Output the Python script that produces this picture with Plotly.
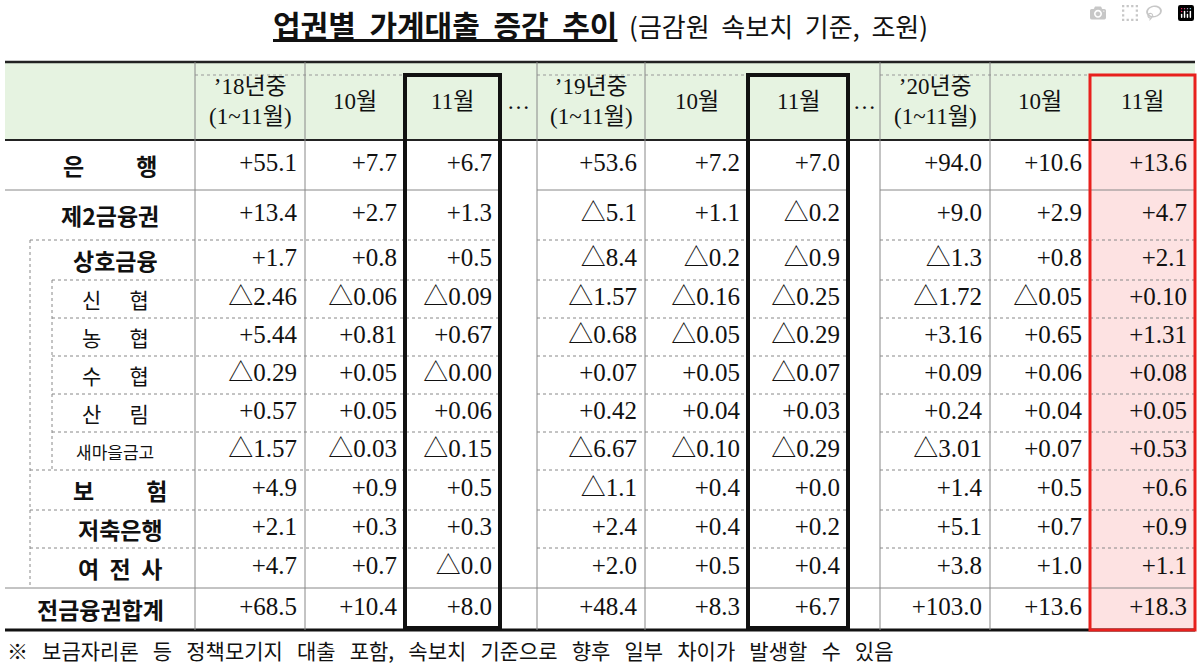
import plotly.graph_objects as go

row_labels = ["은          행", "제2금융권", "상호금융", "신      협", "농      협", "수      협", "산      림", "새마을금고",
              "보          험", "저축은행", "여  전  사", "전금융권합계"]
header_labels = ["’18년중<br>(1~11월)", "10월", "11월", "…", "’19년중<br>(1~11월)", "10월", "11월", "…",
                 "’20년중<br>(1~11월)", "10월", "11월"]
y18_total = ["+55.1", "+13.4", "+1.7", "△2.46", "+5.44", "△0.29", "+0.57", "△1.57", "+4.9", "+2.1", "+4.7", "+68.5"]
y18_oct = ["+7.7", "+2.7", "+0.8", "△0.06", "+0.81", "+0.05", "+0.05", "△0.03", "+0.9", "+0.3", "+0.7", "+10.4"]
y18_nov = ["+6.7", "+1.3", "+0.5", "△0.09", "+0.67", "△0.00", "+0.06", "△0.15", "+0.5", "+0.3", "△0.0", "+8.0"]
y19_total = ["+53.6", "△5.1", "△8.4", "△1.57", "△0.68", "+0.07", "+0.42", "△6.67", "△1.1", "+2.4", "+2.0", "+48.4"]
y19_oct = ["+7.2", "+1.1", "△0.2", "△0.16", "△0.05", "+0.05", "+0.04", "△0.10", "+0.4", "+0.4", "+0.5", "+8.3"]
y19_nov = ["+7.0", "△0.2", "△0.9", "△0.25", "△0.29", "△0.07", "+0.03", "△0.29", "+0.0", "+0.2", "+0.4", "+6.7"]
y20_total = ["+94.0", "+9.0", "△1.3", "△1.72", "+3.16", "+0.09", "+0.24", "△3.01", "+1.4", "+5.1", "+3.8", "+103.0"]
y20_oct = ["+10.6", "+2.9", "+0.8", "△0.05", "+0.65", "+0.06", "+0.04", "+0.07", "+0.5", "+0.7", "+1.0", "+13.6"]
y20_nov = ["+13.6", "+4.7", "+2.1", "+0.10", "+1.31", "+0.08", "+0.05", "+0.53", "+0.6", "+0.9", "+1.1", "+18.3"]

columns = [y18_total, y18_oct, y18_nov, None, y19_total, y19_oct, y19_nov, None, y20_total, y20_oct, y20_nov]
col_edges = [195, 305, 405, 500, 537, 645, 748, 848, 880, 990, 1090, 1195]
row_edges = [140, 190, 240, 280, 318, 356, 394, 432, 470, 510, 548, 588, 630]
label_x = [110, 110, 115, 115, 115, 115, 115, 115, 120, 120, 120, 100]
gaps = [(500, 537), (848, 880)]

SERIF = "Liberation Serif, Noto Sans CJK KR, serif"
KR = "Noto Sans CJK KR, Liberation Serif, serif"
fig = go.Figure()
shapes = []

def hseg(y, x0, x1, color="#999", width=1, dash="solid"):
    shapes.append(dict(type="line", x0=x0, x1=x1, y0=y, y1=y, line=dict(color=color, width=width, dash=dash), layer="above"))

def vseg(x, y0, y1, color="#999", width=1, dash="solid"):
    shapes.append(dict(type="line", x0=x, x1=x, y0=y0, y1=y1, line=dict(color=color, width=width, dash=dash), layer="above"))

shapes.append(dict(type="rect", x0=5, x1=1195, y0=62, y1=140, fillcolor="#e6f3e1", line=dict(width=0), layer="below"))
shapes.append(dict(type="rect", x0=1090, x1=1195, y0=140, y1=630, fillcolor="#fde2e2", line=dict(width=0), layer="below"))

def segs(x0, x1):
    out, s = [], x0
    for g0, g1 in gaps:
        out.append((s, g0)); s = g1
    out.append((s, x1))
    return out

for y in row_edges[1:-1]:
    if y == 588:
        hseg(y, 5, 1195, "#888", 1)
        continue
    solid = y == 190
    if y == 190:
        x_start = 5
    elif y >= 470 or y == 240:
        x_start = 30
    else:
        x_start = 52
    for a, b in segs(x_start, 1195):
        hseg(y, a, b, "#888", 1, "solid" if solid else "dot")
for a, b in segs(195, 1195):
    hseg(75, a, b, "#999", 1, "dot")
hseg(62, 5, 1195, "#222", 2.5)
hseg(140, 5, 1195, "#222", 2)
hseg(630, 5, 1195, "#111", 3)
for x in [195, 305, 537, 645, 880, 990]:
    vseg(x, 62, 630, "#888", 1)
vseg(30, 240, 588, "#888", 1, "dot")
vseg(52, 280, 470, "#888", 1, "dot")
for x0, x1 in [(405, 500), (748, 848)]:
    shapes.append(dict(type="rect", x0=x0, x1=x1, y0=75, y1=628, line=dict(color="#111", width=4), layer="above"))
shapes.append(dict(type="rect", x0=1090, x1=1195, y0=75, y1=630, line=dict(color="#e8201d", width=3), layer="above"))

row_y = [(row_edges[i] + row_edges[i + 1]) / 2 for i in range(len(row_edges) - 1)]

for ci, col in enumerate(columns):
    if col is None:
        continue
    fig.add_trace(go.Scatter(x=[col_edges[ci + 1] - 8] * len(col), y=row_y, mode="text", text=col,
                             textposition="middle left",
                             textfont=dict(family=SERIF, size=25, color="#111"), hoverinfo="skip"))
for ci, h in enumerate(header_labels):
    fig.add_annotation(x=(col_edges[ci] + col_edges[ci + 1]) / 2, y=101, text=h, showarrow=False,
                       font=dict(family=SERIF, size=23, color="#111"), xanchor="center", yanchor="middle")
for ri, lab in enumerate(row_labels):
    size = 17 if ri == 7 else (21 if 3 <= ri <= 6 else 23)
    bold = ri in (0, 1, 2, 8, 9, 10, 11)
    fig.add_annotation(x=label_x[ri], y=row_y[ri], text=f"<b>{lab}</b>" if bold else lab, showarrow=False,
                       font=dict(family=KR, size=size, color="#111"), xanchor="center", yanchor="middle")

fig.add_annotation(x=600, y=24, showarrow=False, xanchor="center", yanchor="middle",
                   text="<b><u>업권별  가계대출  증감  추이</u></b><span style='font-size:26px'>  (금감원  속보치  기준,  조원)</span>",
                   font=dict(family=KR, size=30, color="#111"))
fig.add_annotation(x=5, y=650, showarrow=False, xanchor="left", yanchor="middle",
                   text="※   보금자리론   등   정책모기지   대출   포함,   속보치   기준으로   향후   일부   차이가   발생할   수   있음",
                   font=dict(family=KR, size=21, color="#111"))

fig.update_layout(width=1200, height=667, margin=dict(l=0, r=0, t=0, b=0), showlegend=False,
                  plot_bgcolor="white", paper_bgcolor="white", shapes=shapes,
                  xaxis=dict(range=[0, 1200], visible=False, fixedrange=True),
                  yaxis=dict(range=[667, 0], visible=False, fixedrange=True))
fig.write_html("out.html", post_script="document.body.style.margin='0';document.body.style.overflow='hidden';")
